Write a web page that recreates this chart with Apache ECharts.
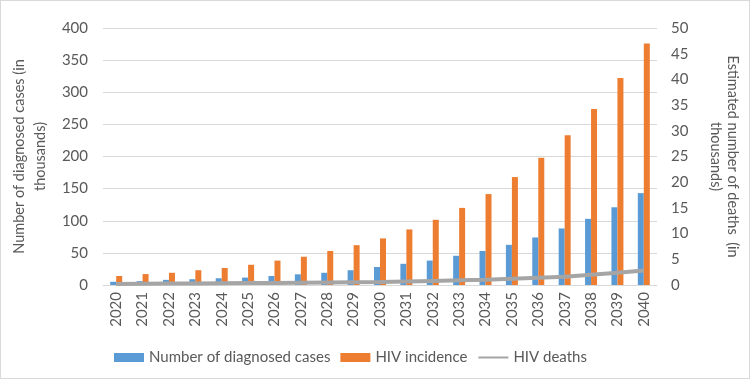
<!DOCTYPE html>
<html>
<head>
<meta charset="UTF-8">
<title>HIV projection</title>
<script src="https://cdn.jsdelivr.net/npm/echarts@6/dist/echarts.min.js"></script>
<style>
	html, body { margin: 0; padding: 0; background: #fff; }
	#container { width: 748px; height: 377px; border: 1px solid #d9d9d9; }
</style>
</head>
<body>
<div id="container"></div>
<script>
// years on the x axis
var years = ['2020','2021','2022','2023','2024','2025','2026','2027','2028','2029','2030',
	'2031','2032','2033','2034','2035','2036','2037','2038','2039','2040'];
// thousands, left axis
var diagnosed = [5, 6, 8, 9, 10.5, 11.5, 14, 16.6, 19, 23, 28, 33, 38, 45.5, 53, 62.5, 74, 88, 103, 121, 143];
var incidence = [14, 17, 19, 23, 26.5, 31.5, 38, 44, 53, 62, 72.5, 86.5, 101.5, 120, 141.5, 168, 198, 233, 274, 322, 376];
// thousands, right axis
var deaths = [0.2, 0.25, 0.3, 0.3, 0.35, 0.4, 0.4, 0.45, 0.5, 0.55, 0.6, 0.7, 0.8, 0.9, 1.0, 1.2, 1.4, 1.6, 2.0, 2.4, 2.8];

var font = 'Lato';
var txt = '#595959';

var myChart = echarts.init(document.getElementById('container'));
var option = {
	textStyle: { fontFamily: font },
	animation: false,
	grid: { left: 86, right: 80, top: 27, bottom: 93 },
	legend: {
		bottom: 8,
		left: 108,
		itemWidth: 30,
		itemHeight: 9,
		itemGap: 10,
		textStyle: { fontFamily: font, fontSize: 15, color: txt },
		data: [
			{ name: 'Number of diagnosed cases', icon: 'rect' },
			{ name: 'HIV incidence', icon: 'rect' },
			{ name: 'HIV deaths', itemStyle: { opacity: 0 } }
		]
	},
	xAxis: {
		type: 'category',
		data: years,
		axisLine: { lineStyle: { color: '#d9d9d9', width: 1 } },
		axisTick: { show: false },
		axisLabel: { rotate: 90, color: txt, fontSize: 15, margin: 7, interval: 0 }
	},
	yAxis: [
		{
			type: 'value', min: 0, max: 400, interval: 50,
			name: 'Number of diagnosed cases (in\nthousands)',
			nameLocation: 'middle', nameRotate: 90, nameGap: 48,
			nameTextStyle: { fontSize: 14.5, color: txt, lineHeight: 21, fontFamily: font },
			axisLine: { show: false }, axisTick: { show: false },
			axisLabel: { color: txt, fontSize: 15, margin: 15 },
			splitLine: { lineStyle: { color: '#d9d9d9' } }
		},
		{
			type: 'value', min: 0, max: 50, interval: 5,
			name: 'Estimated number of deaths  (in\nthousands)',
			nameLocation: 'middle', nameRotate: -90, nameGap: 50,
			nameTextStyle: { fontSize: 14.5, color: txt, lineHeight: 17, fontFamily: font },
			axisLine: { show: false }, axisTick: { show: false },
			axisLabel: { color: txt, fontSize: 15, margin: 14 },
			splitLine: { show: false }
		}
	],
	series: [
		{
			name: 'Number of diagnosed cases', type: 'bar', yAxisIndex: 0,
			data: diagnosed, barWidth: 6, barGap: '0%',
			itemStyle: { color: '#5b9bd5' }
		},
		{
			name: 'HIV incidence', type: 'bar', yAxisIndex: 0,
			data: incidence, barWidth: 6,
			itemStyle: { color: '#ed7d31' }
		},
		{
			name: 'HIV deaths', type: 'line', yAxisIndex: 1,
			data: deaths, symbol: 'none',
			lineStyle: { color: '#a5a5a5', width: 4 },
			itemStyle: { color: '#a5a5a5' }
		}
	]
};
myChart.setOption(option);
</script>
</body>
</html>
